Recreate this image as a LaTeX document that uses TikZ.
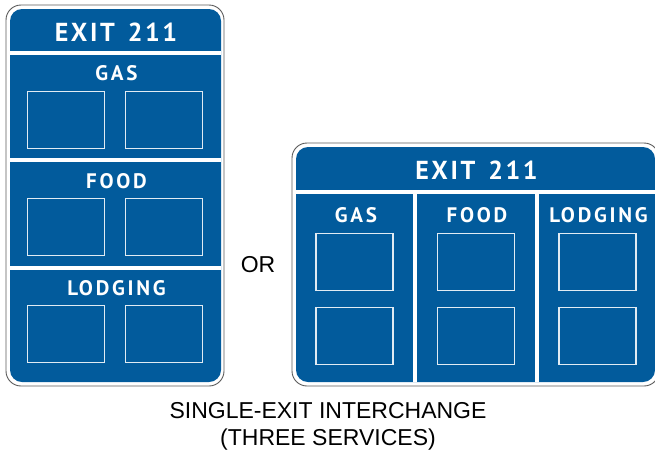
\documentclass[tikz,border=0pt]{standalone}
\usepackage{fontspec}
\setmainfont{Liberation Sans}
\newfontfamily\signfont[LetterSpace=10]{PT Sans}
\newfontfamily\svcfont[LetterSpace=13]{PT Sans}
\definecolor{signblue}{RGB}{2,91,156}
\definecolor{rimgray}{RGB}{90,90,90}
\begin{document}
\begin{tikzpicture}[x=1pt,y=-1pt,
  rim/.style={draw=rimgray,line width=0.9pt,rounded corners=15pt},
  panel/.style={fill=signblue,rounded corners=12pt},
  divider/.style={draw=white,line width=4pt},
  legend/.style={draw=white!88!signblue,line width=1.1pt,minimum width=77pt,minimum height=57pt,inner sep=0pt},
  head/.style={text=white,font=\signfont\bfseries\fontsize{26}{26}\selectfont,inner sep=0pt},
  svc/.style={text=white,font=\svcfont\bfseries\fontsize{21}{21}\selectfont,inner sep=0pt},
  captext/.style={font=\fontsize{23}{27}\selectfont,align=center,inner sep=0pt}]
\useasboundingbox (0,0) rectangle (655,458);
\clip (0,0) rectangle (655,458);
% left sign
\draw[rim] (6,5) rectangle (224,386);
\fill[panel] (10,9) rectangle (221,382);
\draw[divider] (10,53) -- (221,53);
\draw[divider] (10,160) -- (221,160);
\draw[divider] (10,268) -- (221,268);
\node[head] (lexit) at (116,32) {EXIT\hspace{13pt}211};
\node[svc] (lgas) at (116.5,73) {GAS};
\node[svc] (lfood) at (116.5,181) {FOOD};
\node[svc] (llodg) at (116.5,288) {LODGING};
\node[legend] (lg1) at (66,120) {};
\node[legend] (lg2) at (164,120) {};
\node[legend] (lf1) at (66,227) {};
\node[legend] (lf2) at (164,227) {};
\node[legend] (ll1) at (66,334) {};
\node[legend] (ll2) at (164,334) {};
% or
\node[captext] (or) at (258,265) {OR};
% right sign
\draw[rim] (292,143) rectangle (659,386);
\fill[panel] (296,147) rectangle (655,382);
\draw[divider] (296,192) -- (655,192);
\draw[divider] (415,192) -- (415,382);
\draw[divider] (537,192) -- (537,382);
\node[head] (rexit) at (476.5,170) {EXIT\hspace{13pt}211};
\node[svc] (rgas) at (356,215) {GAS};
\node[svc] (rfood) at (477,215) {FOOD};
\node[svc] (rlodg) at (598.5,215) {LODGING};
\node[legend] (rg1) at (354.5,262) {};
\node[legend] (rg2) at (354.5,336) {};
\node[legend] (rf1) at (476,262) {};
\node[legend] (rf2) at (476,336) {};
\node[legend] (rl1) at (597.5,262) {};
\node[legend] (rl2) at (597.5,336) {};
% caption
\node[captext] (caption) at (328,426) {SINGLE-EXIT INTERCHANGE\\(THREE SERVICES)};
\end{tikzpicture}
\end{document}
